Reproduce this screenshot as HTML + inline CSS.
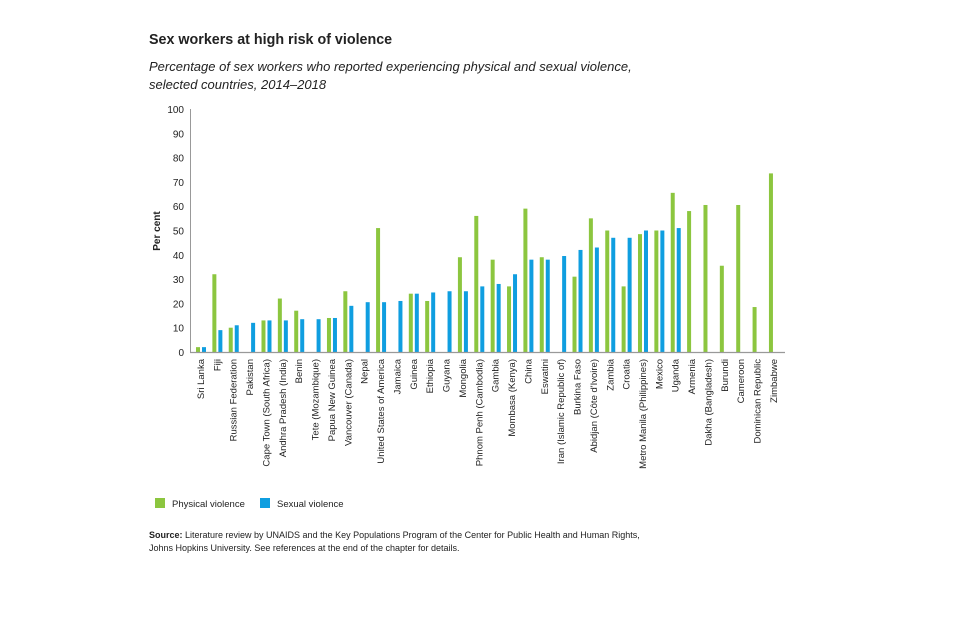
<!DOCTYPE html>
<html><head><meta charset="utf-8"><style>
body{margin:0;background:#fff;font-family:"Liberation Sans",sans-serif;}
svg text{font-family:"Liberation Sans",sans-serif;fill:#222;}
</style></head><body>
<svg width="960" height="618" viewBox="0 0 960 618">
<text x="149" y="44" font-size="14.3" font-weight="bold">Sex workers at high risk of violence</text>
<text x="149" y="71" font-size="13" font-style="italic">Percentage of sex workers who reported experiencing physical and sexual violence,</text>
<text x="149" y="89" font-size="13" font-style="italic">selected countries, 2014–2018</text>
<g id="yaxis"></g>
<text transform="translate(160,231) rotate(-90)" text-anchor="middle" font-size="10" font-weight="bold">Per cent</text>
<g id="bars"></g>
<g id="xlabels"></g>
<line x1="190" y1="352.5" x2="785" y2="352.5" stroke="#999" stroke-width="1.2"/>
<line x1="190.5" y1="109" x2="190.5" y2="352" stroke="#999" stroke-width="1"/>
<rect x="155" y="498" width="10" height="10" fill="#8cc63f"/>
<text x="172" y="507" font-size="9.5">Physical violence</text>
<rect x="260" y="498" width="10" height="10" fill="#0f9ee0"/>
<text x="277" y="507" font-size="9.5">Sexual violence</text>
<text x="149" y="538" font-size="9"><tspan font-weight="bold">Source:</tspan> Literature review by UNAIDS and the Key Populations Program of the Center for Public Health and Human Rights,</text>
<text x="149" y="551" font-size="9">Johns Hopkins University. See references at the end of the chapter for details.</text>
</svg>
<script>
const categories=["Sri Lanka","Fiji","Russian Federation","Pakistan","Cape Town (South Africa)","Andhra Pradesh (India)","Benin","Tete (Mozambique)","Papua New Guinea","Vancouver (Canada)","Nepal","United States of America","Jamaica","Guinea","Ethiopia","Guyana","Mongolia","Phnom Penh (Cambodia)","Gambia","Mombasa (Kenya)","China","Eswatini","Iran (Islamic Republic of)","Burkina Faso","Abidjan (Côte d'Ivoire)","Zambia","Croatia","Metro Manila (Philippines)","Mexico","Uganda","Armenia","Dakha (Bangladesh)","Burundi","Cameroon","Dominican Republic","Zimbabwe"];
const physical=[2,32,10,null,13,22,17,null,14,25,null,51,null,24,21,null,39,56,38,27,59,39,null,31,55,50,27,48.5,50,65.5,58,60.5,35.5,60.5,18.5,73.5];
const sexual=[2,9,11,12,13,13,13.5,13.5,14,19,20.5,20.5,21,24,24.5,25,25,27,28,32,38,38,39.5,42,43,47,47,50,50,51,null,null,null,null,null,null];
const yTicks=[0,10,20,30,40,50,60,70,80,90,100];
const NS="http://www.w3.org/2000/svg";
const y=v=>352-v*2.43;
const x=i=>201+i*16.37;
const ya=document.getElementById('yaxis'),bg=document.getElementById('bars'),xl=document.getElementById('xlabels');
yTicks.forEach(t=>{const e=document.createElementNS(NS,'text');


e.setAttribute('x',184);e.setAttribute('y',y(t)+4);e.setAttribute('text-anchor','end');e.setAttribute('font-size','10');e.textContent=t;ya.appendChild(e);});
function bar(i,v,off,col,nm){if(v==null)return;const r=document.createElementNS(NS,'rect');


r.setAttribute('x',x(i)+off);r.setAttribute('y',y(v));r.setAttribute('width',4);r.setAttribute('height',352-y(v));r.setAttribute('fill',col);bg.appendChild(r);}
categories.forEach((c,i)=>{bar(i,physical[i],-5,'#8cc63f','bar-physical');bar(i,sexual[i],1,'#0f9ee0','bar-sexual');
const t=document.createElementNS(NS,'text');


t.setAttribute('transform',`translate(${x(i)+3},359) rotate(-90)`);t.setAttribute('text-anchor','end');t.setAttribute('font-size','9.5');t.textContent=c;xl.appendChild(t);});
</script>
</body></html>
